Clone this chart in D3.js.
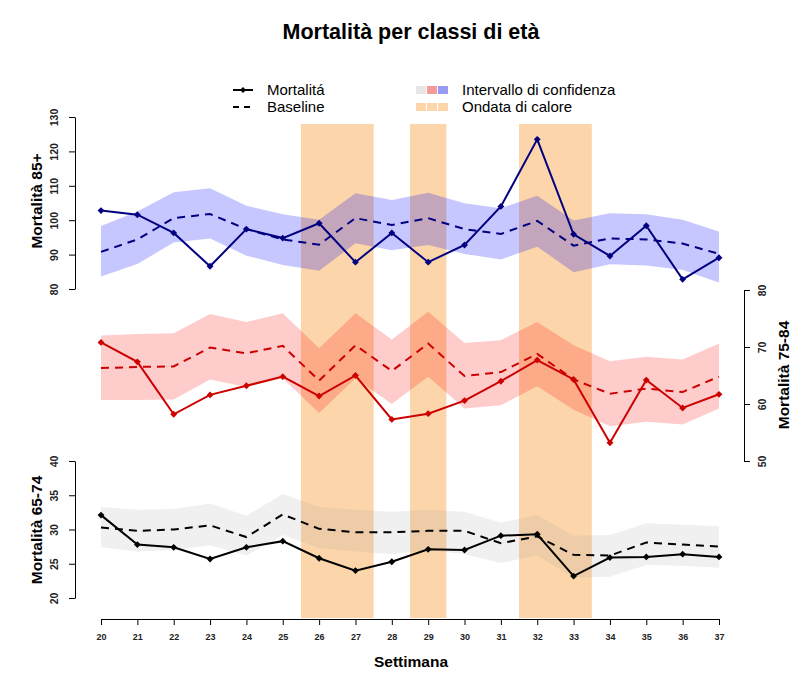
<!DOCTYPE html>
<html><head><meta charset="utf-8">
<script src="https://cdn.jsdelivr.net/npm/d3@7"></script>
<style>body{margin:0;background:#fff}svg{display:block;font-family:"Liberation Sans",Arial,sans-serif}</style>
</head><body>
<svg id="c" width="794" height="682"></svg>
<script>
const weeks = d3.range(20, 38);
// 85+
const mort85 = [102.8,101.6,96.3,86.6,97.4,94.8,99.1,87.8,96.3,87.8,92.8,104.0,123.5,95.9,89.6,98.4,82.8,89.1];
const base85 = [90.8,94.4,100.6,101.8,97.4,94.4,92.9,100.6,98.6,100.6,97.4,96.0,99.8,92.6,94.7,94.4,93.2,90.2];
const up85   = [98.3,102.5,108.1,109.3,104.2,101.7,100.1,107.8,105.9,108.0,104.9,103.5,107.1,99.9,102.0,101.7,100.1,96.7];
const lo85   = [83.6,87.3,93.5,94.7,89.7,87.0,85.3,93.3,91.3,92.8,90.2,88.6,92.3,84.9,87.2,86.8,85.5,81.9];
// 75-84
const mort75 = [70.8,67.4,58.2,61.6,63.2,64.8,61.4,65.0,57.3,58.3,60.6,64.0,67.7,64.3,53.2,64.2,59.3,61.7];
const base75 = [66.3,66.5,66.6,69.9,68.9,70.2,64.1,70.3,65.8,70.6,64.9,65.6,68.8,64.3,61.8,62.7,62.1,64.8];
const up75   = [72.0,72.3,72.4,75.8,74.4,75.9,69.8,75.9,71.3,76.2,70.7,71.2,74.4,70.3,67.5,68.3,67.8,70.6];
const lo75   = [60.7,60.7,60.8,64.3,63.0,64.5,58.4,64.5,60.0,64.8,59.2,59.8,63.1,59.0,56.1,56.9,56.4,59.2];
// 65-74
const mort65 = [32.1,27.8,27.4,25.7,27.4,28.3,25.8,24.0,25.3,27.1,27.0,29.1,29.3,23.2,25.9,26.0,26.4,26.0];
const base65 = [30.3,29.8,30.0,30.6,28.9,32.2,30.1,29.6,29.6,29.8,29.8,28.0,29.0,26.3,26.2,28.1,27.8,27.5];
const up65   = [33.3,32.9,33.0,33.8,32.0,35.2,33.3,32.9,32.6,32.9,32.6,31.0,32.1,29.1,29.2,30.9,30.7,30.5];
const lo65   = [27.4,26.8,27.0,27.7,26.2,29.2,27.3,26.8,26.4,27.0,26.4,25.1,26.2,23.0,23.1,24.8,24.7,24.4];
// heat wave periods (first week, last week)
const heatWaves = [[26,27],[29,29],[32,33]];
const ticks85 = [80,90,100,110,120,130];
const ticks75 = [50,60,70,80];
const ticks65 = [20,25,30,35,40];

const svg = d3.select("#c");
const x = d3.scaleLinear().domain([20,37]).range([101,719]);
const y85 = d3.scaleLinear().domain([80,130]).range([289,117]);
const y75 = d3.scaleLinear().domain([50,80]).range([461,290]);
const y65 = d3.scaleLinear().domain([20,40]).range([598,461]);

// heat waves
svg.append("g").selectAll("rect").data(heatWaves).join("rect")
  .attr("x", d => x(d[0]-0.5)).attr("width", d => x(d[1]+0.5)-x(d[0]-0.5))
  .attr("y", 124).attr("height", 494)
  .attr("fill", "rgb(252,213,170)");

function panel(y, mort, base, up, lo, band, col) {
  const g = svg.append("g");
  const area = d3.area().x((d,i)=>x(weeks[i])).y0((d,i)=>y(lo[i])).y1((d,i)=>y(up[i]));
  g.append("path").datum(up).attr("d", area).attr("fill", band);
  const line = d3.line().x((d,i)=>x(weeks[i])).y(d=>y(d));
  g.append("path").datum(base).attr("d", line).attr("fill","none").attr("stroke",col)
    .attr("stroke-width",2).attr("stroke-dasharray","8,6");
  g.append("path").datum(mort).attr("d", line).attr("fill","none").attr("stroke",col)
    .attr("stroke-width",2);
  g.selectAll(".m").data(mort).join("path")
    .attr("transform",(d,i)=>`translate(${x(weeks[i])},${y(d)})`)
    .attr("d", d3.symbol(d3.symbolDiamond2, 30)).attr("fill", col);
}
panel(y85, mort85, base85, up85, lo85, "rgba(0,0,255,0.22)", "#000080");
panel(y75, mort75, base75, up75, lo75, "rgba(255,0,0,0.2)", "#CD0000");
panel(y65, mort65, base65, up65, lo65, "rgba(150,150,150,0.14)", "#000000");

function styleAxis(g, fs) {
  g.select(".domain").attr("stroke","#000");
  g.selectAll(".tick line").attr("stroke","#000");
  g.selectAll(".tick text").attr("font-size",fs).attr("font-weight","bold").attr("fill","#222")
    .attr("font-family","'Liberation Sans',Arial,sans-serif");
}
function leftAxis(y, t) {
  const g = svg.append("g").attr("transform","translate(75,0)")
    .call(d3.axisLeft(y).tickValues(t).tickSize(6).tickSizeOuter(0));
  styleAxis(g, 10.5);
  g.selectAll(".tick text").attr("transform","rotate(-90)").attr("x",0).attr("y",-17)
    .attr("dy","0").attr("text-anchor","middle");
}
leftAxis(y85, ticks85);
leftAxis(y65, ticks65);
const gr = svg.append("g").attr("transform","translate(744,0)")
  .call(d3.axisRight(y75).tickValues(ticks75).tickSize(6).tickSizeOuter(0));
styleAxis(gr, 10.5);
gr.selectAll(".tick text").attr("transform","rotate(-90)").attr("x",0).attr("y",22)
  .attr("dy","0").attr("text-anchor","middle");

const gx = svg.append("g").attr("transform","translate(0,619)")
  .call(d3.axisBottom(x).tickValues(weeks).tickFormat(d3.format("d")).tickSize(6).tickSizeOuter(0));
styleAxis(gx, 9);
gx.selectAll(".tick text").attr("y",15).attr("dy","0.71em");

// titles
svg.append("text").attr("x",411).attr("y",39).attr("text-anchor","middle")
  .attr("font-size",21.5).attr("font-weight","bold").text("Mortalità per classi di età");
svg.append("text").attr("x",411).attr("y",667).attr("text-anchor","middle")
  .attr("font-size",15.5).attr("font-weight","bold").text("Settimana");
svg.append("text").attr("transform","translate(42,201) rotate(-90)").attr("text-anchor","middle")
  .attr("font-size",15.5).attr("font-weight","bold").text("Mortalità 85+");
svg.append("text").attr("transform","translate(42,530) rotate(-90)").attr("text-anchor","middle")
  .attr("font-size",15.5).attr("font-weight","bold").text("Mortalità 65-74");
svg.append("text").attr("transform","translate(789,375) rotate(-90)").attr("text-anchor","middle")
  .attr("font-size",15.5).attr("font-weight","bold").text("Mortalità 75-84");

// legend
const lg = svg.append("g").attr("font-size",15);
lg.append("line").attr("x1",233).attr("x2",253).attr("y1",90).attr("y2",90).attr("stroke","#000").attr("stroke-width",2);
lg.append("path").attr("transform","translate(243,90)").attr("d", d3.symbol(d3.symbolDiamond2, 24)).attr("fill","#000");
lg.append("line").attr("x1",233).attr("x2",253).attr("y1",107).attr("y2",107).attr("stroke","#000").attr("stroke-width",2).attr("stroke-dasharray","6,5");
lg.append("text").attr("x",267).attr("y",95).text("Mortalitá");
lg.append("text").attr("x",267).attr("y",112).text("Baseline");
const ciCols = ["#e6e6e6","#f49a9a","#9a9af4"];
lg.selectAll(".ci").data(ciCols).join("rect").attr("x",(d,i)=>416+i*11).attr("y",86).attr("width",10).attr("height",8).attr("fill",d=>d);
lg.selectAll(".hw").data([0,1,2]).join("rect").attr("x",(d,i)=>416+i*11).attr("y",103).attr("width",10).attr("height",8).attr("fill","rgb(252,213,170)");
lg.append("text").attr("x",462).attr("y",95).text("Intervallo di confidenza");
lg.append("text").attr("x",462).attr("y",112).text("Ondata di calore");
</script>
</body></html>
